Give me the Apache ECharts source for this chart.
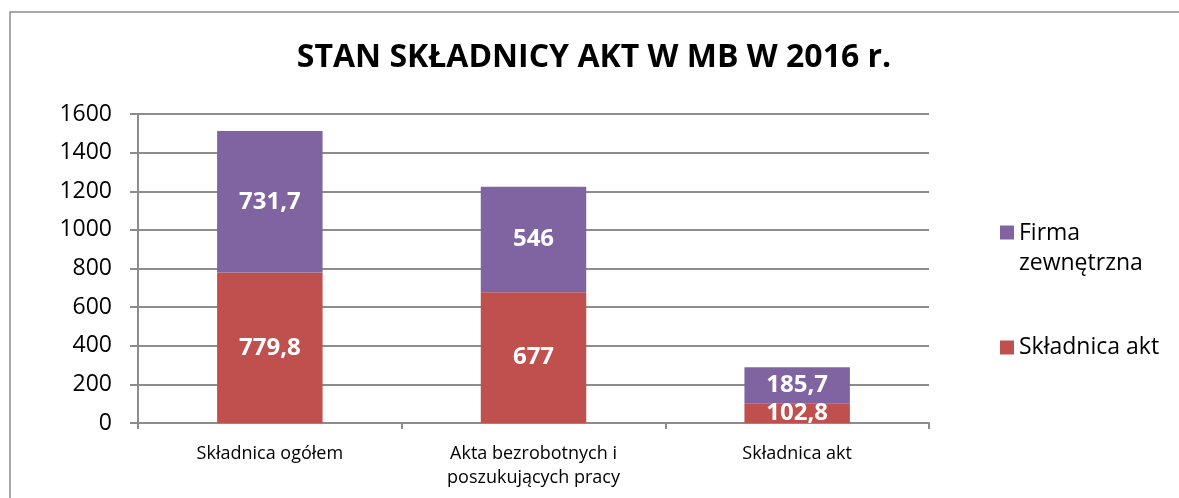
<!DOCTYPE html>
<html>
<head>
<meta charset="utf-8">
<script src="https://cdn.jsdelivr.net/npm/echarts@6/dist/echarts.min.js"></script>
<style>
  html, body { margin: 0; padding: 0; background: #fff; }
  #chart { width: 1179px; height: 498px; }
</style>
</head>
<body>
<div id="chart"></div>
<script>
  const categories = ['Składnica ogółem', 'Akta bezrobotnych i\nposzukujących pracy', 'Składnica akt'];
  const skladnicaAkt = [779.8, 677, 102.8];
  const firmaZewnetrzna = [731.7, 546, 185.7];
  const yTicks = [0, 200, 400, 600, 800, 1000, 1200, 1400, 1600];

  const font = '"Open Sans", "DejaVu Sans", sans-serif';
  const gray = '#8c8c8c';
  const fmt = v => String(v).replace('.', ',');

  // legend squares: top-aligned for the two-line entry, centered for the one-line entry
  const iconTop = 'path://M0,0H14V14H0Z M0,45h0.01v0.01h-0.01Z';
  const iconMid = 'path://M0,15.5H14V29.5H0Z M0,0h0.01v0.01h-0.01Z M0,45h0.01v0.01h-0.01Z';

  const chart = echarts.init(document.getElementById('chart'));

  chart.setOption({
    animation: false,
    textStyle: { fontFamily: font },
    graphic: [{
      type: 'rect',
      shape: { x: 10, y: 12, width: 1300, height: 600 },
      style: { fill: 'none', stroke: gray, lineWidth: 1.5 },
      silent: true
    }],
    title: {
      text: 'STAN SKŁADNICY AKT W MB W 2016 r.',
      left: 589,
      textAlign: 'center',
      top: 37,
      textStyle: { fontFamily: font, fontSize: 32, fontWeight: 'bold', color: '#000' }
    },
    legend: {
      orient: 'vertical',
      left: 1000,
      top: 218,
      padding: 0,
      itemWidth: 14,
      itemHeight: 45,
      itemGap: 47,
      data: [
        { name: 'Firma zewnętrzna', icon: iconTop },
        { name: 'Składnica akt', icon: iconMid }
      ],
      formatter: name => name === 'Firma zewnętrzna' ? 'Firma\nzewnętrzna' : name,
      textStyle: { fontSize: 23, color: '#000', lineHeight: 30, fontFamily: font }
    },
    grid: { left: 138, right: 250, top: 114, bottom: 75 },
    xAxis: {
      type: 'category',
      data: categories,
      axisLine: { lineStyle: { color: gray, width: 2 } },
      axisTick: { show: true, length: 6, lineStyle: { color: gray, width: 2 } },
      axisLabel: { fontSize: 18, color: '#000', lineHeight: 24, margin: 19, fontFamily: font }
    },
    yAxis: {
      type: 'value',
      min: 0,
      max: 1600,
      interval: 200,
      axisLine: { show: true, lineStyle: { color: gray, width: 2 } },
      axisTick: { show: true, length: 8, lineStyle: { color: gray, width: 2 } },
      axisLabel: {
        fontSize: 23, color: '#000', margin: 26, fontFamily: font,
        formatter: v => yTicks.includes(v) ? String(v) : ''
      },
      splitLine: { lineStyle: { color: gray, width: 2 } }
    },
    series: [
      {
        name: 'Składnica akt',
        type: 'bar',
        stack: 'total',
        barWidth: '40%',
        itemStyle: { color: '#c0504d' },
        label: {
          show: true, position: 'inside', color: '#fff', fontSize: 24, fontWeight: 'bold',
          fontFamily: font, formatter: p => fmt(p.value)
        },
        data: skladnicaAkt
      },
      {
        name: 'Firma zewnętrzna',
        type: 'bar',
        stack: 'total',
        barWidth: '40%',
        itemStyle: { color: '#8064a2' },
        label: {
          show: true, position: 'inside', color: '#fff', fontSize: 24, fontWeight: 'bold',
          fontFamily: font, formatter: p => fmt(p.value)
        },
        data: firmaZewnetrzna
      }
    ]
  });
</script>
</body>
</html>
